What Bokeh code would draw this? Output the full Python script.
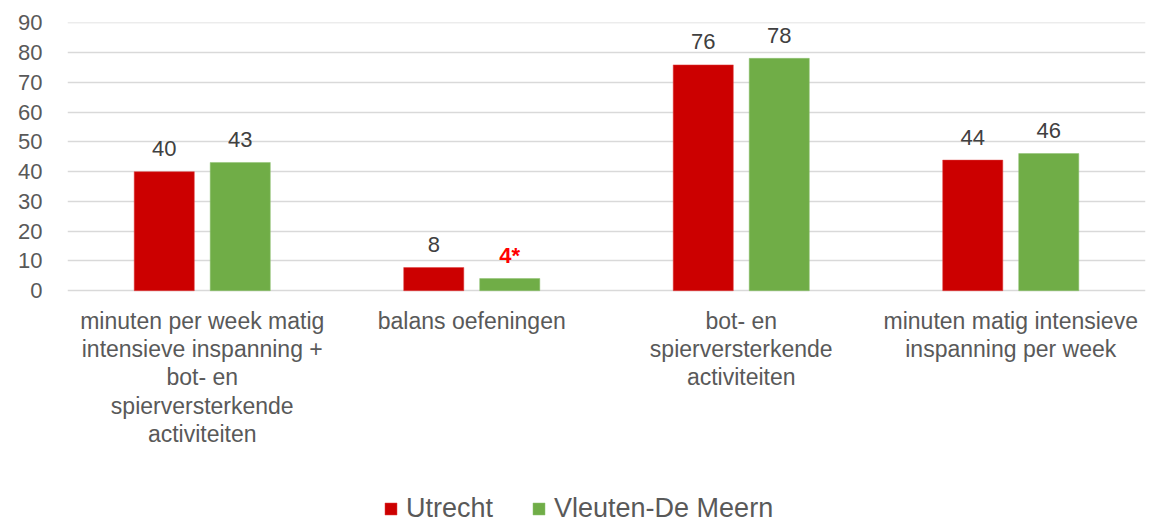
from bokeh.plotting import figure
from bokeh.models import ColumnDataSource, FactorRange, Range1d, FixedTicker, Legend, LegendItem
from bokeh.transform import dodge
from bokeh.core.properties import value
from bokeh.embed import file_html
from bokeh.resources import INLINE

categories = [
    "minuten per week matig intensieve inspanning + bot- en spierversterkende activiteiten",
    "balans oefeningen",
    "bot- en spierversterkende activiteiten",
    "minuten matig intensieve inspanning per week",
]
category_labels = [
    "minuten per week matig\nintensieve inspanning +\nbot- en\nspierversterkende\nactiviteiten",
    "balans oefeningen",
    "bot- en\nspierversterkende\nactiviteiten",
    "minuten matig intensieve\ninspanning per week",
]
series_names = ["Utrecht", "Vleuten-De Meern"]
utrecht = [40.0, 7.8, 75.9, 43.9]
vleuten = [43.1, 4.1, 78.1, 46.1]
utrecht_labels = ["40", "8", "76", "44"]
vleuten_labels = ["43", "4*", "78", "46"]
vleuten_label_colors = ["#404040", "#FF0000", "#404040", "#404040"]
vleuten_label_styles = ["normal", "bold", "normal", "normal"]
y_ticks = [0, 10, 20, 30, 40, 50, 60, 70, 80, 90]

RED = "#CC0000"
GREEN = "#70AD47"
TEXT = "#595959"
FONT = "Liberation Sans"

W, H = 1150, 526
TOP, BOTTOM = 22, 2
ZERO_PX = 290  # figure pixel row of the value 0
ymax = max(y_ticks)
px_per_unit = (ZERO_PX - TOP) / ymax
ymin = ymax - (H - TOP - BOTTOM) / px_per_unit

src = ColumnDataSource(dict(
    cat=categories,
    catlab=category_labels,
    base=[0] * len(categories),
    utrecht=utrecht,
    vleuten=vleuten,
    ulab=utrecht_labels,
    vlab=vleuten_labels,
    ucol=["#404040"] * len(categories),
    vcol=vleuten_label_colors,
    ustyle=["normal"] * len(categories),
    vstyle=vleuten_label_styles,
))

p = figure(
    x_range=FactorRange(*categories, range_padding=0),
    y_range=Range1d(ymin, ymax + 0.15),
    width=W, height=H,
    output_backend="svg", toolbar_location=None,
    min_border_left=67, min_border_right=5, min_border_top=TOP, min_border_bottom=BOTTOM,
)
p.outline_line_color = None
p.background_fill_color = "white"
p.border_fill_color = "white"

BW = 0.223
OFF = 0.141
r1 = p.vbar(x=dodge("cat", -OFF, range=p.x_range), top="utrecht", width=BW, source=src,
            fill_color=RED, line_color="#E04040", line_width=0.5)
r2 = p.vbar(x=dodge("cat", OFF, range=p.x_range), top="vleuten", width=BW, source=src,
            fill_color=GREEN, line_color="#8CC070", line_width=0.5)

p.text(x=dodge("cat", -OFF, range=p.x_range), y="utrecht", text="ulab", source=src,
       text_align="center", text_baseline="alphabetic", y_offset=-23,
       text_font=value(FONT), text_font_size="22px", text_color="ucol", text_font_style="ustyle")
p.text(x=dodge("cat", OFF, range=p.x_range), y="vleuten", text="vlab", source=src,
       text_align="center", text_baseline="alphabetic", y_offset=-23,
       text_font=value(FONT), text_font_size="22px", text_color="vcol", text_font_style="vstyle")

# category labels below the zero line
p.text(x="cat", y="base", text="catlab", source=src,
       text_align="center", text_baseline="top", y_offset=17,
       text_font=value(FONT), text_font_size="23px", text_color=TEXT, text_line_height=1.09)

# axes
p.yaxis.ticker = FixedTicker(ticks=y_ticks)
p.yaxis.axis_line_color = None
p.yaxis.major_tick_line_color = None
p.yaxis.minor_tick_line_color = None
p.yaxis.major_label_text_font = FONT
p.yaxis.major_label_text_font_size = "22px"
p.yaxis.major_label_text_color = TEXT
p.yaxis.major_label_standoff = 19

p.xaxis.visible = False
p.xgrid.grid_line_color = None
p.ygrid.grid_line_color = "#D9D9D9"
p.ygrid.grid_line_width = 1.5

legend = Legend(
    items=[LegendItem(label=series_names[0], renderers=[r1]),
           LegendItem(label=series_names[1], renderers=[r2])],
    orientation="horizontal", location=(316, 0),
    label_text_font=FONT, label_text_font_size="27px", label_text_color=TEXT,
    glyph_width=15, glyph_height=15, label_standoff=8, spacing=38,
    border_line_color=None, background_fill_alpha=0, padding=0, margin=0,
)
p.add_layout(legend)

open("out.html", "w").write(file_html(p, INLINE))
